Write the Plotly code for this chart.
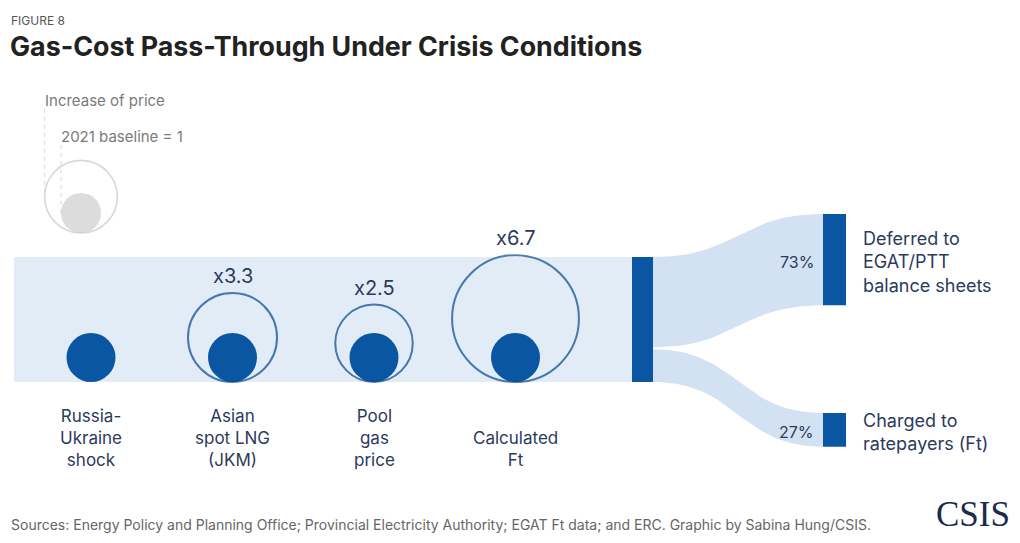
import numpy as np
import plotly.graph_objects as go

# --- data ---
categories = ["Russia-<br>Ukraine<br>shock", "Asian<br>spot LNG<br>(JKM)", "Pool<br>gas<br>price", "Calculated<br>Ft"]
price_multiple = [1.0, 3.3, 2.5, 6.7]          # 2021 baseline = 1
split_labels = ["Deferred to<br>EGAT/PTT<br>balance sheets", "Charged to<br>ratepayers (Ft)"]
split_share = [73, 27]                          # percent of the cost increase
legend_multiple = 3.3

# --- layout constants (pixels) ---
W, H = 1020, 543
PX = 1.25            # pixels per percentage point
BASE_Y = 382         # pixel row of the band bottom
BAND_X0 = 14
NODE_X = (632, 653)
TARGET_X = (823, 846)
TARGET_TOP_PX = [214, 413]
CAT_X0, CAT_STEP = 91, 141.5
BASE_D = 49          # diameter of the baseline dot
LEG_CX, LEG_BOTTOM, LEG_D = 81, 233, 40

DARK = "#0A56A3"
BAND = "#E2ECF7"
FLOW = "#D3E2F3"
NAVY = "#2C3A5C"
GREY_TXT = "#7A7A7A"
FONT = "Inter"


def yu(px):
    """pixel row -> y axis units (percent)"""
    return (BASE_Y - px) / PX


def ribbon(x0, x1, s_lo, s_hi, t_lo, t_hi, n=80):
    t = np.linspace(0, 1, n)
    xm = (x0 + x1) / 2
    bx = (1 - t) ** 3 * x0 + 3 * (1 - t) ** 2 * t * xm + 3 * (1 - t) * t ** 2 * xm + t ** 3 * x1
    h = 3 * t ** 2 - 2 * t ** 3
    top = s_hi + (t_hi - s_hi) * h
    bot = s_lo + (t_lo - s_lo) * h
    return np.concatenate([bx, bx[::-1]]), np.concatenate([top, bot[::-1]])


total = sum(split_share)
fig = go.Figure()
shapes = []
ann = []

# incoming band
shapes.append(dict(type="rect", xref="x", yref="y", x0=BAND_X0, x1=NODE_X[0], y0=0, y1=total,
                   fillcolor=BAND, line_width=0, layer="below"))

# split flows
gap = 0.8
src_top = total
for i, share in enumerate(split_share):
    t_hi = yu(TARGET_TOP_PX[i])
    t_lo = t_hi - share
    s_hi = src_top - (gap if i > 0 else 0)
    s_lo = src_top - share + (gap if i < len(split_share) - 1 else 0)
    xs, ys = ribbon(NODE_X[1], TARGET_X[0], s_lo, s_hi, t_lo, t_hi)
    fig.add_trace(go.Scatter(x=xs, y=ys, mode="lines", fill="toself", fillcolor=FLOW,
                             line=dict(width=0), hoverinfo="skip"))
    src_top -= share
    shapes.append(dict(type="rect", xref="x", yref="y", x0=TARGET_X[0], x1=TARGET_X[1],
                       y0=t_lo, y1=t_hi, fillcolor=DARK, line_width=0))
    ann.append(dict(x=TARGET_X[0] - 7, y=(t_lo + t_hi) / 2 - 1.5, text=f"{share}%", xanchor="right",
                    yanchor="middle", font=dict(size=16, color=NAVY)))
    ann.append(dict(x=TARGET_X[1] + 15, y=(t_lo + t_hi) / 2 - 1.5, text=split_labels[i], xanchor="left",
                    yanchor="middle", align="left", font=dict(size=18, color=NAVY)))

# node bar
shapes.append(dict(type="rect", xref="x", yref="y", x0=NODE_X[0], x1=NODE_X[1], y0=0, y1=total,
                   fillcolor=DARK, line_width=0))

# circles: area proportional to the price multiple
cx = [CAT_X0 + CAT_STEP * i for i in range(len(categories))]
outer_d = [BASE_D * np.sqrt(m) for m in price_multiple]
fig.add_trace(go.Scatter(
    x=cx, y=[BASE_D / 2 / PX] * len(cx), mode="markers",
    marker=dict(size=BASE_D, color=DARK, line=dict(width=0)), hoverinfo="skip"))
ring = [i for i, m in enumerate(price_multiple) if m > 1]
fig.add_trace(go.Scatter(
    x=[cx[i] for i in ring], y=[outer_d[i] / 2 / PX for i in ring], mode="markers",
    marker=dict(size=[outer_d[i] for i in ring], color="rgba(0,0,0,0)",
                line=dict(width=2, color="#08468C")), hoverinfo="skip"))
for i in ring:
    ann.append(dict(x=cx[i], y=(outer_d[i] + 17) / PX, text=f"x{price_multiple[i]:g}",
                    xanchor="center", yanchor="middle", font=dict(size=20, color=NAVY)))
for i, lab in enumerate(categories):
    ann.append(dict(x=cx[i], y=yu(472), text=lab, xanchor="center", yanchor="bottom",
                    align="center", font=dict(size=17, color=NAVY)))

# legend
leg_outer = LEG_D * np.sqrt(legend_multiple)
fig.add_trace(go.Scatter(
    x=[LEG_CX, LEG_CX], y=[yu(LEG_BOTTOM - leg_outer / 2), yu(LEG_BOTTOM - LEG_D / 2)], mode="markers",
    marker=dict(size=[leg_outer, LEG_D], color=["rgba(0,0,0,0)", "#CDCDCD"],
                line=dict(width=[1.6, 0], color="#C8C8C8")), hoverinfo="skip"))
for lx, ly0, ly1 in [(LEG_CX - leg_outer / 2, 109, LEG_BOTTOM - leg_outer / 2),
                     (LEG_CX - LEG_D / 2, 145, LEG_BOTTOM - LEG_D / 2)]:
    fig.add_trace(go.Scatter(x=[lx, lx], y=[yu(ly0), yu(ly1)], mode="lines",
                             line=dict(color="#D6D6D6", width=1, dash="4px,4px"), hoverinfo="skip"))
ann.append(dict(x=LEG_CX - leg_outer / 2 - 2, y=yu(100), text="Increase of price", xanchor="left",
                yanchor="middle", font=dict(size=15, color=GREY_TXT)))
ann.append(dict(x=LEG_CX - LEG_D / 2 - 2, y=yu(136), text="2021 baseline = 1", xanchor="left",
                yanchor="middle", font=dict(size=15, color=GREY_TXT)))

# titles, source, logo
ann.append(dict(x=9, y=yu(20), text="FIGURE 8", xanchor="left", yanchor="middle",
                font=dict(size=12, color="#555555")))
ann.append(dict(x=8, y=yu(46), text="Gas-Cost Pass-Through Under Crisis Conditions", xanchor="left",
                yanchor="middle", font=dict(size=26.8, color="#222222", weight=700)))
ann.append(dict(x=9, y=yu(524),
                text="Sources: Energy Policy and Planning Office; Provincial Electricity Authority; "
                     "EGAT Ft data; and ERC. Graphic by Sabina Hung/CSIS.",
                xanchor="left", yanchor="middle", font=dict(size=14, color="#666666")))
ann.append(dict(x=1012, y=yu(514), text="CSIS", xanchor="right", yanchor="middle",
                font=dict(size=35, color="#1B2A4E", family="Liberation Serif")))

for a in ann:
    a.update(xref="x", yref="y", showarrow=False)

fig.update_layout(
    width=W, height=H, margin=dict(l=0, r=0, t=0, b=0),
    xaxis=dict(range=[0, W], visible=False, fixedrange=True),
    yaxis=dict(range=[yu(H), yu(0)], visible=False, fixedrange=True),
    showlegend=False, hovermode=False,
    plot_bgcolor="white", paper_bgcolor="white",
    font=dict(family=FONT, color=NAVY),
    shapes=shapes, annotations=ann,
)

fig.write_html("out.html", config={"displayModeBar": False},
               post_script="document.body.style.margin='0';document.body.style.overflow='hidden';")
